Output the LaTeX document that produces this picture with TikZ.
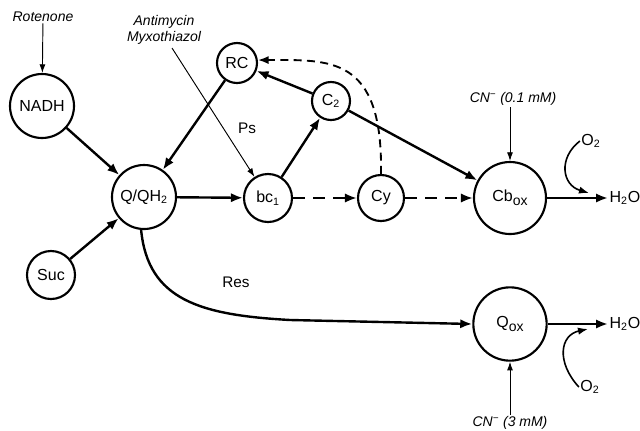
\documentclass[tikz,border=0pt]{standalone}
\usepackage{fontspec}
\setmainfont{Liberation Sans}
\usetikzlibrary{arrows.meta}
\begin{document}
\begin{tikzpicture}[x=0.75pt,y=-0.75pt,
  circ/.style={circle,draw,line width=1.6pt,inner sep=0pt,font=\fontsize{12}{14}\selectfont},
  thickarr/.style={line width=1.8pt,-{Latex[length=9pt,width=7pt]}},
  thinarr/.style={line width=0.7pt,-{Latex[length=6.5pt,width=4.5pt]}},
  medarr/.style={line width=1.2pt,-{Latex[length=7.5pt,width=5.5pt]}},
  dasharr/.style={line width=1.8pt,dash pattern=on 9pt off 6pt,-{Latex[length=9pt,width=7pt]}},
  dcurve/.style={line width=1.4pt,dash pattern=on 6pt off 4pt,-{Latex[length=8pt,width=6pt]}},
  ilbl/.style={inner sep=1pt,align=center,font=\fontsize{10.5}{12.5}\selectfont\itshape},
  lbl/.style={inner sep=1pt,font=\fontsize{11.5}{13}\selectfont},
  chem/.style={inner sep=1pt,font=\fontsize{12}{14}\selectfont}]
\useasboundingbox (0,0) rectangle (640,430);
% nodes
\node[circ,minimum size=48pt] (NADH) at (42,106) {NADH};
\node[circ,minimum size=48pt] (QQH) at (144,197) {Q/QH\textsubscript{2}};
\node[circ,minimum size=36pt] (Suc) at (51,275) {Suc};
\node[circ,minimum size=36pt] (bc1) at (268,198) {bc\textsubscript{1}};
\node[circ,minimum size=34.5pt] (Cy) at (381,198) {Cy};
\node[circ,minimum size=30pt] (RC) at (237,63) {RC};
\node[circ,minimum size=28.5pt] (C2) at (331,101) {C\textsubscript{2}};
\node[circ,minimum size=54pt] (Cbox) at (510,198) {Cb\raisebox{-3pt}{\fontsize{10.5}{12}\selectfont ox}};
\node[circ,minimum size=55pt] (Qox) at (510,324) {Q\raisebox{-3pt}{\fontsize{10.5}{12}\selectfont ox}};
% labels
\node[ilbl] (rot) at (43,17) {Rotenone};
\node[ilbl] (anti) at (164,30) {Antimycin\\Myxothiazol};
\node[lbl] (ps) at (247,128) {Ps};
\node[lbl] (res) at (236,282) {Res};
\node[ilbl] (cn1) at (513,99) {CN\textsuperscript{−} (0.1 mM)};
\node[ilbl] (cn2) at (510,423) {CN\textsuperscript{−} (3 mM)};
\node[chem,anchor=west] (h2oa) at (608,198) {H\textsubscript{2}O};
\node[chem,anchor=west] (h2ob) at (608,324) {H\textsubscript{2}O};
\node[chem] (o2a) at (591,141) {O\textsubscript{2}};
\node[chem] (o2b) at (590,387) {O\textsubscript{2}};
\coordinate (amst) at (172,48);
\coordinate (tipA) at (589,193);
\coordinate (tipB) at (588,329);
\coordinate (resbend) at (290,320);
% connectors
\draw[thinarr] (rot) -- (NADH);
\draw[thinarr] (amst) -- (bc1);
\draw[thickarr] (NADH) -- (QQH);
\draw[thickarr] (RC) -- (QQH);
\draw[thickarr] (Suc) -- (QQH);
\draw[thickarr] (QQH) -- (bc1);
\draw[thickarr] (bc1) -- (C2);
\draw[thickarr] (C2) -- (RC);
\draw[thickarr] (C2) -- (Cbox);
\draw[dasharr] (bc1) -- (Cy);
\draw[dasharr] (Cy) -- (Cbox);
\draw[dcurve] (Cy.north) .. controls (383,55) and (330,60) .. (RC.8);
\draw[thickarr] (QQH.265) .. controls (148,300) and (200,315) .. (resbend) -- (Qox.west);
\draw[thinarr] (cn1.south -| Cbox.north) -- (Cbox.north);
\draw[thinarr] (cn2.north -| Qox.south) -- (Qox.south);
\draw[thickarr] (Cbox) -- (h2oa);
\draw[thickarr] (Qox.east) -- (h2ob.west);
\draw[medarr] (o2a.west) .. controls (558,158) and (562,185) .. (tipA);
\draw[medarr] (o2b.west) .. controls (556,362) and (560,335) .. (tipB);
\end{tikzpicture}
\end{document}
